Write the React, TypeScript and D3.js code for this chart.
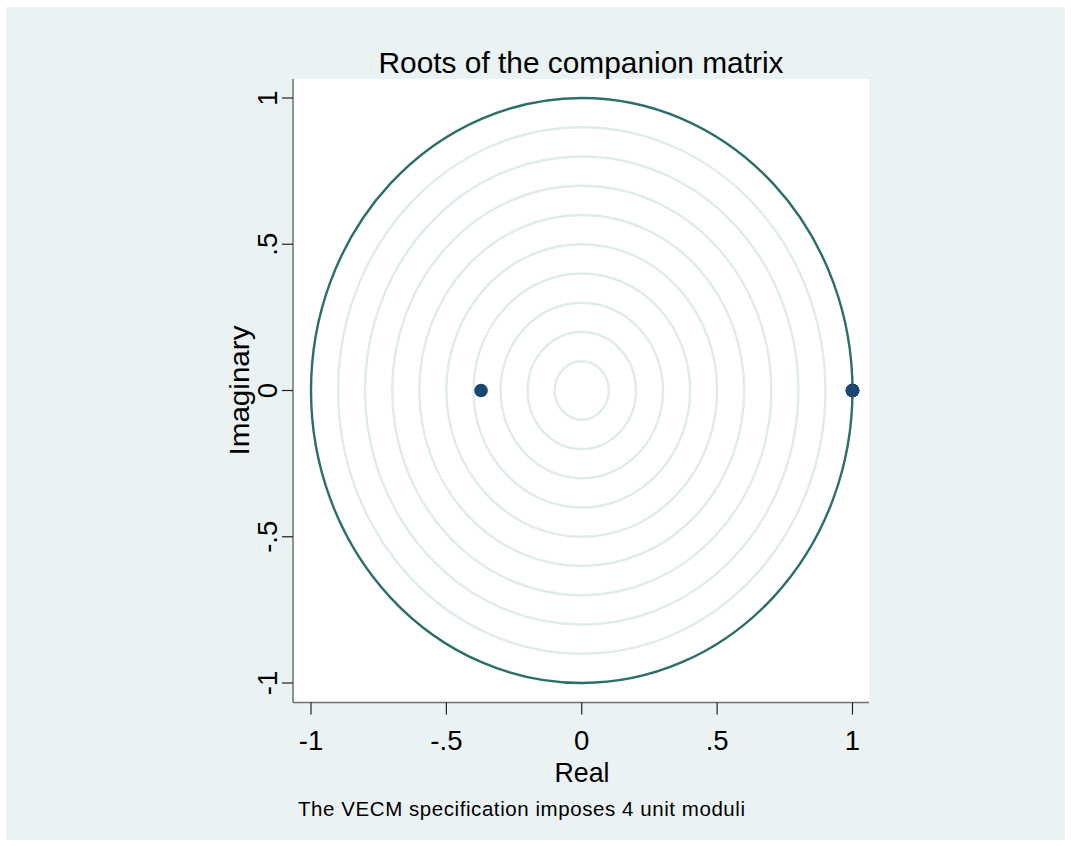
import React from "react";
import * as d3 from "d3";

const title = "Roots of the companion matrix";
const xLabel = "Real";
const yLabel = "Imaginary";
const note = "The VECM specification imposes 4 unit moduli";

const xTicks = [-1, -0.5, 0, 0.5, 1];
const yTicks = [-1, -0.5, 0, 0.5, 1];
const tickLabels = ["-1", "-.5", "0", ".5", "1"];

const gridRadii = [0.1, 0.2, 0.3, 0.4, 0.5, 0.6, 0.7, 0.8, 0.9];
const unitRadius = 1;

const rootsReal = [1, 1, 1, 1, -0.372];
const rootsImag = [0, 0, 0, 0, 0];

const W = 1071;
const H = 846;

export default function App() {
  const x = d3.scaleLinear().domain([-1, 1]).range([311, 852.5]);
  const y = d3.scaleLinear().domain([-1, 1]).range([683, 98]);
  const font = "Arial, 'Liberation Sans', Helvetica, sans-serif";
  const plot = { x0: 293, x1: 869, y0: 79, y1: 702.5 };
  const cx = x(0);
  const cy = y(0);

  return (
    <svg
      width={W}
      height={H}
      style={{ position: "absolute", left: 0, top: 0 }}
      fontFamily={font}
    >
      <rect x={0} y={0} width={W} height={H} fill="#ffffff" />
      <rect x={6} y={7} width={W - 12} height={H - 13} fill="#EAF2F3" />
      <rect
        x={plot.x0}
        y={plot.y0}
        width={plot.x1 - plot.x0}
        height={plot.y1 - plot.y0}
        fill="#ffffff"
      />
      {gridRadii.map((r) => (
        <ellipse
          key={r}
          cx={cx}
          cy={cy}
          rx={x(r) - cx}
          ry={cy - y(r)}
          fill="none"
          stroke="#E0EBEB"
          strokeWidth={2.4}
        />
      ))}
      <ellipse
        cx={cx}
        cy={cy}
        rx={x(unitRadius) - cx}
        ry={cy - y(unitRadius)}
        fill="none"
        stroke="#2C6E69"
        strokeWidth={2.4}
      />
      {rootsReal.map((re, i) => (
        <circle key={i} cx={x(re)} cy={y(rootsImag[i])} r={6.8} fill="#1A476F" />
      ))}
      {/* axes */}
      <line x1={plot.x0} x2={plot.x0} y1={plot.y0} y2={plot.y1} stroke="#707070" strokeWidth={1.5} />
      <line x1={plot.x0} x2={plot.x1} y1={plot.y1} y2={plot.y1} stroke="#707070" strokeWidth={1.5} />
      {yTicks.map((t, i) => (
        <g key={"y" + t}>
          <line x1={plot.x0 - 11} x2={plot.x0} y1={y(t)} y2={y(t)} stroke="#222" strokeWidth={1.2} />
          <text
            transform={`translate(277,${y(t)}) rotate(-90)`}
            textAnchor="middle"
            fontSize={27.5}
            fill="#000"
          >
            {tickLabels[i]}
          </text>
        </g>
      ))}
      {xTicks.map((t, i) => (
        <g key={"x" + t}>
          <line x1={x(t)} x2={x(t)} y1={plot.y1} y2={plot.y1 + 12} stroke="#222" strokeWidth={1.2} />
          <text x={x(t)} y={750} textAnchor="middle" fontSize={27.5} fill="#000">
            {tickLabels[i]}
          </text>
        </g>
      ))}
      <text x={581} y={73} textAnchor="middle" fontSize={30} textLength={405} lengthAdjust="spacingAndGlyphs" fill="#000">
        {title}
      </text>
      <text x={582} y={782} textAnchor="middle" fontSize={27.5} textLength={55} lengthAdjust="spacingAndGlyphs" fill="#000">
        {xLabel}
      </text>
      <text transform={`translate(249,${cy}) rotate(-90)`} textAnchor="middle" fontSize={27.5} textLength={130} lengthAdjust="spacingAndGlyphs" fill="#000">
        {yLabel}
      </text>
      <text x={298} y={816} fontSize={20.5} textLength={447} lengthAdjust="spacing" fill="#000">
        {note}
      </text>
    </svg>
  );
}
